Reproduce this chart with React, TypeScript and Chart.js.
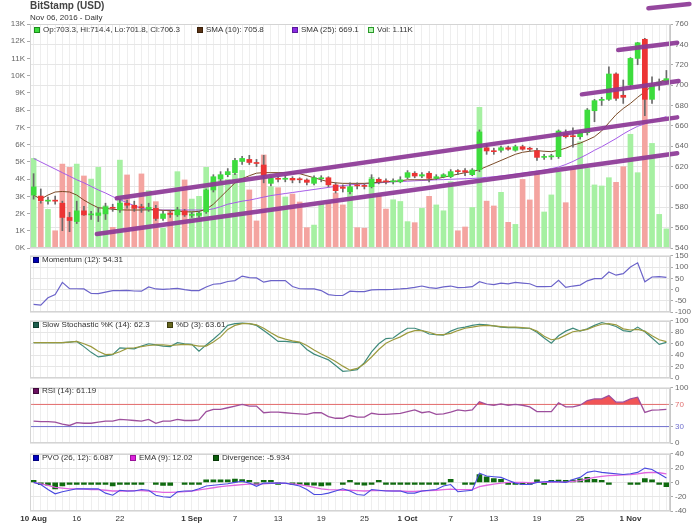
import React, { useEffect, useRef } from 'react';
import { Chart, registerables } from 'chart.js';

Chart.register(...registerables);

const FONT = "'Liberation Sans', Arial, Helvetica, sans-serif";

// x axis: day index, 0 = 10 Aug 2016 ... 88 = 06 Nov 2016
const tickDays = [0, 6, 12, 22, 28, 34, 40, 46, 52, 58, 64, 70, 76, 83];
const tickLabels = ['10 Aug', '16', '22', '1 Sep', '7', '13', '19', '25', '1 Oct', '7', '13', '19', '25', '1 Nov'];
const boldTicks = [0, 22, 52, 83];

const opens = [
  592, 591, 586, 587, 584, 570, 566, 576.5, 572.5, 572,
  573.5, 580, 577.5, 584, 582, 580, 578, 579, 569, 573.5,
  572.5, 576.5, 572, 572, 575.5, 597, 608, 612, 614, 625,
  627, 623.5, 621.5, 603.5, 608, 607.5, 608.4, 607.5, 606.8, 603.5,
  608, 609, 602, 600, 595.3, 601.5, 601, 600.2, 607.5, 605.5,
  605, 605, 609.4, 613.4, 610.7, 613.4, 608.4, 610, 610, 615.5,
  616, 612, 617, 638.5, 635, 636, 638.5, 636, 639.5, 637.5,
  635.6, 629, 629.5, 629.7, 652.6, 649.5, 649.3, 653.3, 674.8, 685,
  686, 710.9, 690, 700, 726.2, 745, 686, 701, 703.3,
];
const highs = [
  613, 598, 590, 591, 586, 575, 586, 581, 576, 580,
  584, 583, 587, 587, 586, 583, 584, 582, 576, 576,
  580, 578, 575, 576, 598, 612, 615, 618, 628, 630,
  631, 627, 631, 610, 610, 611, 610, 609, 608, 611,
  611, 610, 604, 602, 604, 604, 603, 612, 609, 608,
  608, 610, 616, 615, 614, 615, 612, 613, 617, 617,
  618, 618, 656, 642, 638, 640, 640, 641, 641, 639,
  638, 632, 632, 656, 656, 658, 655, 677, 686, 688,
  718, 712, 705, 727, 742, 746, 708, 706, 714.4,
];
const lows = [
  588, 584, 583, 583, 557, 556, 564, 572, 568, 566,
  568, 576, 575, 579, 576, 575, 576, 567, 567, 570,
  571, 571, 570, 570, 574, 595, 606, 610, 612, 622,
  622, 620, 604, 601, 605, 605, 604, 604, 602, 602,
  605, 600, 594, 595, 593, 598, 598, 599, 603, 603,
  603, 604, 608, 609, 609, 605, 607, 609, 609, 612,
  611, 611, 615, 632, 632, 634, 636, 635, 636, 635,
  626, 627, 627, 628, 648, 639, 647, 651, 664, 680,
  685, 685, 682, 698, 720, 670, 682, 695, 701.8,
];
const closes = [
  600, 586.5, 587, 586, 570, 567, 576.5, 572.5, 573, 574.5,
  580.5, 579, 584, 582, 579, 579.5, 580, 569, 573.5, 573,
  577.5, 572.5, 572.5, 574, 597, 610, 612, 615, 626, 628,
  624, 623, 611.7, 608.4, 607.5, 608, 606.8, 607, 604.5, 609,
  608.5, 602, 596.3, 598.6, 600.2, 601, 600.5, 607.5, 605.1, 605,
  605.5, 607, 614, 610.7, 612, 608.4, 610, 612, 615, 615,
  614.5, 616.6, 654, 635.3, 634.6, 638.5, 637, 639.5, 637, 637,
  629, 629.7, 629.8, 654.9, 649.3, 649.3, 653.3, 675.5, 684.7, 686,
  710.9, 687, 688, 726.2, 741.6, 686, 700, 703, 706.3,
];
// volume in thousands
const volumes = [
  5.2, 2.69, 2.24, 1.0, 4.87, 4.68, 4.87, 4.18, 4.0, 4.68,
  2.45, 1.2, 5.1, 4.24, 2.4, 4.3, 3.33, 2.69, 1.14, 2.17,
  4.43, 3.95, 2.84, 3.0, 4.68, 3.85, 3.98, 3.98, 4.3, 4.5,
  3.37, 1.57, 5.4, 3.56, 3.5, 2.96, 3.13, 2.67, 1.18, 1.33,
  2.55, 2.63, 3.19, 2.5, 3.48, 1.18, 1.15, 4.1, 3.07, 2.26,
  2.8, 2.7, 1.53, 1.47, 2.3, 3.0, 2.5, 2.16, 3.85, 1.0,
  1.22, 2.35, 8.17, 2.72, 2.44, 3.23, 1.49, 1.37, 3.98, 2.79,
  4.33, 2.09, 3.08, 4.39, 2.63, 4.62, 6.17, 4.62, 3.66, 3.6,
  4.08, 3.81, 4.72, 6.6, 4.37, 12.07, 6.07, 1.95, 1.11,
];
const sma10 = [
  592, 588, 592, 595, 595.5, 595, 592, 587, 583, 579.5,
  579, 578, 577.5, 577.3, 577.3, 577.3, 577.5, 577.5, 577, 577,
  576.5, 575.5, 575.5, 576, 578, 583, 590, 597, 604, 608,
  611, 613.5, 614, 614, 614, 614, 613.5, 613, 611, 609,
  607, 605, 604, 603.5, 603.5, 603.5, 603.5, 604, 604.5, 605,
  605.5, 606, 607, 607, 607, 607, 608, 609.5, 611, 612.5,
  614, 615, 617, 620, 623, 626, 629, 632, 634, 635,
  635.6, 635, 634.6, 636, 638, 641, 643, 646, 649.3, 655,
  663, 671, 677, 682, 688, 693.5, 699, 703, 705.8,
];
const sma25 = [
  628, 624.5, 621, 617.5, 614, 610.5, 607, 604, 600.5, 597,
  594, 590.5, 587.5, 584.5, 581.5, 579, 578, 577.5, 577.3, 577.3,
  577.3, 577.3, 577.3, 577.3, 577.3, 578.5, 580.5, 583, 584.5, 586,
  587, 588.5, 590, 591.5, 592.5, 593.5, 594.5, 595.5, 596.5, 597.5,
  598.5, 599.5, 600.5, 601.2, 602, 602.6, 603, 603.5, 604, 604.5,
  605, 605.3, 605.6, 606, 606.3, 606.6, 607, 607.2, 607.5, 607.8,
  608, 608.3, 608.7, 609.4, 610, 610.8, 611.5, 612.5, 613.5, 614.5,
  615.5, 616.5, 618, 619.5, 622, 625, 628.5, 632, 636, 639.5,
  643.5, 647.5, 652, 656, 659.5, 662, 665, 667, 669.1,
];
// hand-drawn trend lines (day index, price)
const trendX1 = [8.8, 11.57, 76.25, 81.3, 85.5];
const trendY1 = [553.7, 588.8, 690.9, 734.4, 775.4];
const trendX2 = [89.5, 89.5, 89.7, 89.5, 91.2];
const trendY2 = [633, 668.3, 704, 741.6, 779.6];

const momentum = [
  -65, -69, -36, -22, 32, 4, 4, 3, -17, -18,
  -11, -4, -4, -3, -6, -7, 12, 3, 1, 3,
  6, 0, -4, -4, 12, 24, 27, 36, 40, 60,
  53, 52, 33, 40, 40, 40, 14, 4, 3, 3,
  -4, -22, -26, -26, -7, -9, -9, -1, 0, 0,
  1, 3, 6, 10, 16, 9, 6, 12, 16, 9,
  10, 13, 35, 26, 22, 29, 26, 32, 29, 26,
  13, 13, 14, 41, 10, 16, 20, 39, 49, 49,
  78, 64, 71, 100, 119, 35, 56, 58, 54.31,
];
const stochK = [
  62, 62, 62, 62, 62, 63, 64, 55, 45, 37,
  39, 41, 53, 52, 51, 56, 60, 58, 56, 55,
  62, 60, 59, 47, 58, 68, 79, 92, 95, 96,
  95, 92, 83, 74, 64, 64, 63, 62, 50, 42,
  37, 32, 22, 12, 13, 15, 27, 46, 60, 69,
  70, 79, 87, 87, 83, 77, 76, 75, 82, 87,
  89, 92, 94, 93, 91, 89, 88, 88, 87, 87,
  80, 70, 61, 74, 82, 87, 82, 86, 92, 97,
  94, 90, 83, 81, 89, 81, 70, 59, 62.3,
];
const stochD = [
  62, 62, 62, 62, 62, 63, 64, 60, 55, 47,
  41, 42, 46, 52, 53, 55, 57, 58, 58, 57,
  58, 59, 58, 56, 56, 63, 72, 85, 92, 95,
  95, 93, 87, 79, 72, 68, 65, 63, 57, 49,
  42, 36, 29, 21, 14, 17, 25, 37, 50, 61,
  67, 72, 79, 83, 83, 80, 76, 76, 78, 83,
  87, 89, 91, 92, 91, 90, 89, 89, 88, 87,
  82, 73, 67, 69, 75, 81, 83, 85, 90, 94,
  95, 93, 86, 84, 85, 82, 74, 67, 63.61,
];
const rsi = [
  40, 39, 39, 38, 34.5, 32, 37, 36, 36, 38,
  40, 40, 43, 42, 41, 40, 43, 36, 40, 40,
  43, 41, 41, 42, 57, 61, 61, 64, 67, 70,
  67, 67, 55, 56, 56, 55, 54, 53, 52, 55,
  55, 48, 45, 45, 50, 47, 47, 54, 52, 52,
  53, 54, 57, 60, 55, 57, 52, 53, 56, 60,
  58.5, 60, 75, 70, 68.5, 71, 68.5, 70, 68.5, 65.5,
  57, 57, 57, 73, 65.5, 65.5, 68.5, 77, 80, 80,
  86, 74, 74, 80, 83, 55.6, 59.6, 60, 61.19,
];
const rsiLevels = [70, 30];

const pvo = [
  0, -3, -10, -16, -13, -11, -9, -9, -9, -9,
  -15, -18, -11, -12, -12, -10, -11, -18, -20, -21,
  -13, -12, -12, -9, -5, -4, -3, -2, 0, 1.5,
  -1, -5.5, -1, -1, -1, -1, -3, -5, -10, -17,
  -17, -15, -12, -9, -12, -17, -18, -10, -11, -12,
  -12, -12, -15, -15, -12, -11, -10, -5, -3, -13,
  -12, -11, 13, 9, 8, 7, 3, -1, -3, -3,
  0, 1, 1.5, 1, 0, 4, 7, 14, 16, 14,
  13, 12, 11, 12, 14, 20, 18, 12, 6.087,
];
const pvoEma = [
  0, -2, -4, -7, -8, -9, -9, -9.5, -10, -10,
  -11, -12, -12, -12, -11.5, -11.5, -12, -13, -14, -14,
  -13.5, -13, -12, -10.5, -9, -7.5, -6, -5, -4, -3,
  -2.5, -2.5, -2, -1.5, -1, -1.5, -2, -3, -5, -7,
  -9, -10, -10.5, -11, -11, -11.5, -12, -11.5, -11.5, -11.5,
  -12, -12, -12.5, -12.5, -12, -11.5, -11, -10, -9.5, -10,
  -10, -10, -6, -4, -2.5, -1, 0, 0, 0, -0.5,
  0, 0, 0.5, 0.5, 0.5, 1.5, 2.5, 5, 7, 8.5,
  9.5, 10, 10.5, 11, 12, 13.5, 14, 13.5, 12.02,
];
const divergence = [
  0.5, -3.3, -4, -9, -5, -2.3, -0.5, -0.5, -0.5, -0.5,
  -0.5, -5, -0.5, -0.5, -0.5, -0.5, null, -0.5, -4.3, -4.3,
  null, -0.5, -0.5, -0.5, 3.7, 3.7, 3.7, 3.7, 4.7, 4,
  0.5, -0.5, 1.7, 1.2, -0.5, null, -0.5, -0.5, -4, -4,
  -5, -4, null, -0.5, 1.7, -0.5, -4, -0.5, 1.5, -0.5,
  -0.5, -0.5, -2.3, -2, -0.5, -0.5, -0.5, -0.5, 4.3, null,
  -0.5, -0.5, 11, 7.7, 5.3, 4.3, -0.5, -1.7, -0.5, -0.5,
  3.7, -0.5, 1.7, 3.3, 2.7, 3.3, 5, 7, 4.3, 1.7,
  -0.5, null, null, -0.5, -0.5, 5.3, 3.7, -0.5, -5.934,
];

const dayIdx = opens.map((_, i) => i);
const pts = (arr: any[]) => arr.map((y, i) => ({ x: i, y }));
const isUp = dayIdx.map((i) => closes[i] >= opens[i]);

const tickFont = { family: FONT, size: 8 };

function xAxis(showLabels: boolean): any {
  return {
    type: 'linear',
    min: -0.5,
    max: 88.5,
    offset: false,
    afterBuildTicks: (s: any) => {
      s.ticks = dayIdx.map((v) => ({ value: v }));
    },
    ticks: showLabels
      ? {
          display: true,
          autoSkip: false,
          maxRotation: 0,
          padding: 3,
          color: '#333',
          callback: (v: any) => {
            const k = tickDays.indexOf(v);
            return k >= 0 ? tickLabels[k] : '';
          },
          font: (ctx: any) => ({
            family: FONT,
            size: 8,
            weight: ctx.tick && boldTicks.includes(ctx.tick.value) ? 'bold' : 'normal',
          }),
        }
      : { display: false },
    grid: { color: '#eeeeee', drawTicks: false, offset: false },
    border: { display: false },
    afterFit: (s: any) => {
      s.height = showLabels ? 13 : 0;
    },
  };
}

function yRight(min: number, max: number, step: number, extra: any = {}): any {
  return {
    type: 'linear',
    position: 'right',
    min,
    max,
    ticks: { stepSize: step, color: '#666', font: tickFont, padding: 2, autoSkip: false, ...(extra.ticks || {}) },
    grid: { color: '#e6e6e6', tickLength: 3, tickColor: '#aaa' },
    border: { display: true, color: '#c8c8c8' },
    afterFit: (s: any) => {
      s.width = 30;
    },
    ...(extra.axis || {}),
  };
}

const panelBorder = {
  id: 'panelBorder',
  afterDraw(chart: any) {
    const { ctx, chartArea: a } = chart;
    ctx.save();
    ctx.strokeStyle = '#d4d4d4';
    ctx.lineWidth = 1;
    ctx.strokeRect(Math.round(a.left) + 0.5, Math.round(a.top) + 0.5, Math.round(a.right - a.left) - 1, Math.round(a.bottom - a.top) - 1);
    ctx.restore();
  },
};

function baseOptions(pad: any, scales: any): any {
  return {
    responsive: false,
    maintainAspectRatio: false,
    animation: false,
    events: [],
    layout: { padding: pad },
    plugins: { legend: { display: false }, tooltip: { enabled: false } },
    scales,
  };
}

function mainConfig(): any {
  const trends = trendX1.map((x1, k) => ({
    type: 'line',
    data: [
      { x: x1, y: trendY1[k] },
      { x: trendX2[k], y: trendY2[k] },
    ],
    yAxisID: 'yp',
    borderColor: 'rgba(140,55,150,0.92)',
    borderWidth: 4.5,
    borderCapStyle: 'round',
    pointRadius: 0,
    clip: false,
    order: 1,
  }));
  return {
    type: 'bar',
    data: {
      datasets: [
        ...trends,
        {
          type: 'line',
          data: pts(sma10),
          yAxisID: 'yp',
          borderColor: '#7a4a26',
          borderWidth: 1,
          pointRadius: 0,
          order: 5,
        },
        {
          type: 'line',
          data: pts(sma25),
          yAxisID: 'yp',
          borderColor: '#a65be8',
          borderWidth: 1,
          pointRadius: 0,
          order: 6,
        },
        {
          type: 'bar',
          data: dayIdx.map((i) => ({ x: i, y: [lows[i], highs[i]] })),
          yAxisID: 'yp',
          backgroundColor: '#6a6a6a',
          barThickness: 1,
          grouped: false,
          order: 4,
        },
        {
          type: 'bar',
          data: dayIdx.map((i) => ({ x: i, y: [opens[i], closes[i]] })),
          yAxisID: 'yp',
          backgroundColor: isUp.map((u) => (u ? '#3ddc3d' : '#ec3434')),
          barThickness: 5,
          minBarLength: 1,
          grouped: false,
          order: 3,
        },
        {
          type: 'bar',
          data: pts(volumes),
          yAxisID: 'yv',
          backgroundColor: isUp.map((u) => (u ? '#a6f0a2' : '#f4a4a0')),
          barThickness: 5,
          grouped: false,
          order: 10,
        },
      ],
    },
    options: baseOptions(
      { left: 0, right: 0, top: 24, bottom: 8 },
      {
        x: xAxis(false),
        yv: {
          type: 'linear',
          position: 'left',
          min: 0,
          max: 13,
          ticks: { stepSize: 1, color: '#666', font: tickFont, padding: 2, callback: (v: any) => v + 'K' },
          grid: { drawOnChartArea: false, tickLength: 3, tickColor: '#aaa' },
          border: { display: false },
          afterFit: (s: any) => {
            s.width = 30;
          },
        },
        yp: yRight(540, 760, 20),
      }
    ),
    plugins: [panelBorder],
  };
}

function momentumConfig(): any {
  return {
    type: 'line',
    data: {
      datasets: [{ data: pts(momentum), borderColor: '#6b63c9', borderWidth: 1.2, pointRadius: 0 }],
    },
    options: baseOptions({ left: 30, right: 0, top: 6, bottom: 6 }, { x: xAxis(false), y: yRight(-100, 150, 50) }),
    plugins: [panelBorder],
  };
}

function stochConfig(): any {
  return {
    type: 'line',
    data: {
      datasets: [
        { data: pts(stochD), borderColor: '#9c9a3e', borderWidth: 1.2, pointRadius: 0 },
        { data: pts(stochK), borderColor: '#3f8a7c', borderWidth: 1.2, pointRadius: 0 },
      ],
    },
    options: baseOptions({ left: 30, right: 0, top: 6, bottom: 6 }, { x: xAxis(false), y: yRight(0, 100, 20) }),
    plugins: [panelBorder],
  };
}

function rsiConfig(): any {
  const levelColors = ['#e07a7a', '#7272cf'];
  return {
    type: 'line',
    data: {
      datasets: [
        ...rsiLevels.map((lv, k) => ({
          data: [
            { x: -0.5, y: lv },
            { x: 88.5, y: lv },
          ],
          borderColor: levelColors[k],
          borderWidth: 1,
          pointRadius: 0,
          order: 3,
        })),
        {
          data: pts(rsi),
          borderColor: '#9d4f9d',
          borderWidth: 1.3,
          pointRadius: 0,
          fill: { target: { value: 70 }, above: 'rgba(240,70,72,0.92)', below: 'rgba(0,0,0,0)' },
          order: 1,
        },
      ],
    },
    options: baseOptions(
      { left: 30, right: 0, top: 6, bottom: 6 },
      {
        x: xAxis(false),
        y: yRight(0, 100, 10, {
          axis: {
            afterBuildTicks: (s: any) => {
              s.ticks = [0, 30, 70, 100].map((v) => ({ value: v }));
            },
          },
          ticks: {
            color: (ctx: any) => (ctx.tick && ctx.tick.value === 70 ? '#e07070' : ctx.tick && ctx.tick.value === 30 ? '#7070cc' : '#666'),
          },
        }),
      }
    ),
    plugins: [panelBorder],
  };
}

function pvoConfig(): any {
  return {
    type: 'bar',
    data: {
      datasets: [
        { type: 'line', data: pts(pvoEma), borderColor: '#e066e0', borderWidth: 1.3, pointRadius: 0, order: 2 },
        { type: 'line', data: pts(pvo), borderColor: '#4a4ae0', borderWidth: 1.1, pointRadius: 0, order: 1 },
        {
          type: 'bar',
          data: pts(divergence),
          backgroundColor: '#0f6a0f',
          barThickness: 5,
          minBarLength: 2,
          grouped: false,
          order: 3,
        },
      ],
    },
    options: baseOptions({ left: 30, right: 0, top: 6, bottom: 0 }, { x: xAxis(true), y: yRight(-40, 40, 20) }),
    plugins: [panelBorder],
  };
}

function ChartBox({ top, height, build }: { top: number; height: number; build: () => any }) {
  const ref = useRef<HTMLCanvasElement>(null);
  useEffect(() => {
    const chart = new Chart(ref.current as HTMLCanvasElement, build());
    return () => chart.destroy();
  }, []);
  return (
    <canvas
      ref={ref}
      width={700}
      height={height}
      style={{ position: 'absolute', left: 0, top, width: 700, height }}
    />
  );
}

type LegendItem = { x: number; y: number; color: string; border: string; text: string };

const fmt = (v: number) => String(v);

const legendItems: LegendItem[] = [
  {
    x: 34, y: 30, color: '#3ddc3d', border: '#1c8c1c',
    text: `Op:${fmt(opens[88])}, Hi:${fmt(highs[88])}, Lo:${fmt(lows[88])}, Cl:${fmt(closes[88])}`,
  },
  { x: 197, y: 30, color: '#5a3416', border: '#3a200a', text: `SMA (10): ${fmt(sma10[88])}` },
  { x: 292, y: 30, color: '#8a2be2', border: '#5a1a9a', text: `SMA (25): ${fmt(sma25[88])}` },
  { x: 368, y: 30, color: '#b8f4b4', border: '#2a9a2a', text: `Vol: ${fmt(volumes[88])}K` },
  { x: 33, y: 260, color: '#0000b0', border: '#000070', text: `Momentum (12): ${fmt(momentum[88])}` },
  { x: 33, y: 325, color: '#1d5e4e', border: '#0d3e2e', text: `Slow Stochastic %K (14): ${fmt(stochK[88])}` },
  { x: 167, y: 325, color: '#66661e', border: '#3e3e0e', text: `%D (3): ${fmt(stochD[88])}` },
  { x: 33, y: 391, color: '#6a1060', border: '#40083a', text: `RSI (14): ${fmt(rsi[88])}` },
  { x: 33, y: 458, color: '#0000c0', border: '#000080', text: `PVO (26, 12): ${fmt(pvo[88])}` },
  { x: 130, y: 458, color: '#dd22dd', border: '#991199', text: `EMA (9): ${fmt(pvoEma[88])}` },
  { x: 213, y: 458, color: '#0b5e0b', border: '#063806', text: `Divergence: ${fmt(divergence[88] as number)}` },
];

export default function App() {
  return (
    <div style={{ position: 'fixed', left: 0, top: 0, width: 700, height: 524, background: '#fff', overflow: 'hidden', fontFamily: FONT }}>
      <ChartBox top={0} height={256} build={mainConfig} />
      <ChartBox top={249} height={70} build={momentumConfig} />
      <ChartBox top={314} height={71} build={stochConfig} />
      <ChartBox top={381} height={69} build={rsiConfig} />
      <ChartBox top={447} height={77} build={pvoConfig} />
      <div style={{ position: 'absolute', left: 30, top: 0, fontSize: 10, fontWeight: 'bold', color: '#444', lineHeight: '12px', whiteSpace: 'nowrap' }}>
        BitStamp (USD)
      </div>
      <div style={{ position: 'absolute', left: 30, top: 13, fontSize: 8, color: '#333', lineHeight: '10px', whiteSpace: 'nowrap' }}>
        Nov 06, 2016 - Daily
      </div>
      {legendItems.map((it, k) => (
        <div
          key={k}
          style={{ position: 'absolute', left: it.x, top: it.y - 5, height: 10, lineHeight: '10px', fontSize: 8, color: '#333', whiteSpace: 'nowrap', display: 'flex', alignItems: 'center' }}
        >
          <span style={{ display: 'inline-block', width: 4, height: 4, background: it.color, border: `1px solid ${it.border}`, marginRight: 3 }} />
          <span>{it.text}</span>
        </div>
      ))}
    </div>
  );
}
